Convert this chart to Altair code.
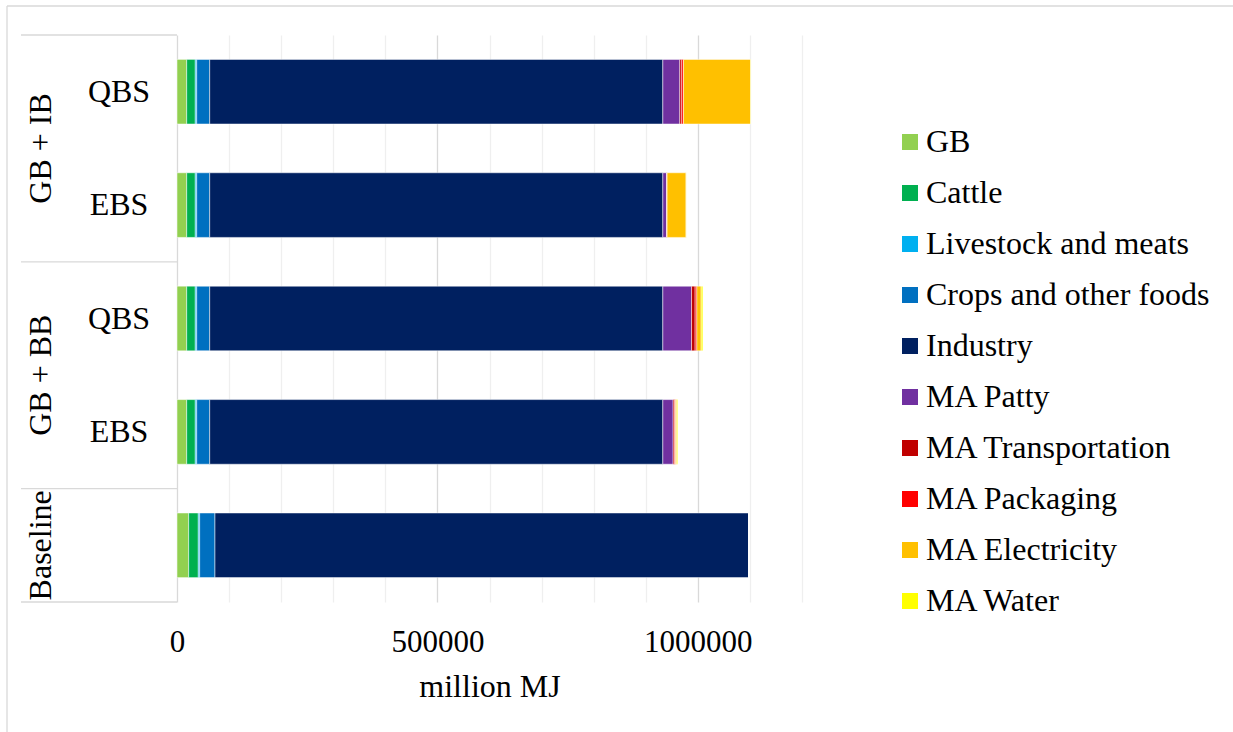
import altair as alt
import pandas as pd

FONT = "Liberation Serif"

# Row order from top to bottom
row_labels = ["QBS", "EBS", "QBS", "EBS", ""]
group_names = ["GB + IB", "GB + BB", "Baseline"]
group_centers = [1.0, 3.0, 4.5]          # in row units
group_breaks = [0, 2, 4, 5]              # separators between label groups

categories = [
    "GB", "Cattle", "Livestock and meats", "Crops and other foods", "Industry",
    "MA Patty", "MA Transportation", "MA Packaging", "MA Electricity", "MA Water",
]
colors = [
    "#92D050", "#00B050", "#00B0F0", "#0070C0", "#002060",
    "#7030A0", "#C00000", "#FF0000", "#FFC000", "#FFFF00",
]

# million MJ per row (GB+IB QBS, GB+IB EBS, GB+BB QBS, GB+BB EBS, Baseline)
gb          = [18600, 18600, 18600, 18600, 22400]
cattle      = [16500, 16500, 16500, 16500, 18500]
livestock   = [2700, 2700, 2700, 2700, 2600]
crops       = [25000, 25000, 25000, 25000, 29400]
industry    = [870000, 870000, 870000, 870000, 1024700]
ma_patty    = [32600, 7100, 55100, 19800, 0]
ma_transport = [3800, 600, 6900, 2600, 0]
ma_packaging = [3300, 500, 3300, 1900, 0]
ma_electric = [129000, 36500, 8300, 2500, 0]
ma_water    = [600, 300, 3300, 1900, 0]

series = [gb, cattle, livestock, crops, industry,
          ma_patty, ma_transport, ma_packaging, ma_electric, ma_water]

records = []
for order, (cat, vals) in enumerate(zip(categories, series)):
    for row, v in enumerate(vals):
        records.append({"row": row, "category": cat, "order": order, "value": v})
bars_df = pd.DataFrame(records)

y_scale = alt.Scale(domain=[0, 5], reverse=True, nice=False, zero=False)
color_scale = alt.Scale(domain=categories, range=colors)

bars = (
    alt.Chart(bars_df)
    .transform_stack(
        stack="value",
        groupby=["row"],
        sort=[alt.SortField("order", order="ascending")],
        as_=["x0", "x1"],
    )
    .transform_calculate(y0="datum.row + 0.215", y1="datum.row + 0.785")
    .mark_bar(stroke="white", strokeWidth=0.5)
    .encode(
        x=alt.X(
            "x0:Q",
            scale=alt.Scale(domain=[0, 1200000], nice=False),
            axis=alt.Axis(
                values=list(range(0, 1200001, 100000)),
                labelExpr="datum.value % 500000 === 0 ? format(datum.value, 'd') : ''",
                title="million MJ",
                domain=False,
                ticks=False,
                labelOverlap=False,
                labelFlush=False,
                gridColor=alt.condition(
                    "datum.value % 500000 === 0", alt.value("#d9d9d9"), alt.value("#efefef")
                ),
                gridWidth=1.3,
                labelFont=FONT,
                labelFontSize=31,
                labelColor="black",
                labelPadding=25,
                titleFont=FONT,
                titleFontSize=32,
                titleFontWeight="normal",
                titleColor="black",
                titlePadding=14,
            ),
        ),
        x2="x1:Q",
        y=alt.Y("y0:Q", scale=y_scale, axis=None),
        y2="y1:Q",
        color=alt.Color(
            "category:N",
            scale=color_scale,
            sort=categories,
            legend=alt.Legend(
                orient="none",
                legendX=717,
                legendY=91,
                title=None,
                symbolType="square",
                symbolSize=256,
                symbolStrokeWidth=0,
                labelFont=FONT,
                labelFontSize=32,
                labelColor="black",
                labelOffset=0,
                rowPadding=19,
                padding=0,
                labelLimit=400,
            ),
        ),
    )
)

# Scenario labels beside each bar
inner_df = pd.DataFrame({"ypos": [i + 0.5 for i in range(len(row_labels))], "label": row_labels})
inner = (
    alt.Chart(inner_df)
    .mark_text(font=FONT, fontSize=32, align="center", baseline="middle", color="black")
    .encode(y=alt.Y("ypos:Q", scale=y_scale, axis=None), x=alt.value(-58), text="label:N")
)

# Rotated group labels
group_df = pd.DataFrame({"ypos": group_centers, "label": group_names})
outer = (
    alt.Chart(group_df)
    .mark_text(font=FONT, fontSize=32, align="center", baseline="middle", angle=270, color="black")
    .encode(y=alt.Y("ypos:Q", scale=y_scale, axis=None), x=alt.value(-136), text="label:N")
)

# Separator lines of the label table
sep_df = pd.DataFrame({"ypos": group_breaks})
seps = (
    alt.Chart(sep_df)
    .mark_rule(color="#d9d9d9", strokeWidth=1.3)
    .encode(y=alt.Y("ypos:Q", scale=y_scale, axis=None), x=alt.value(-156), x2=alt.value(0))
)

# Chart frame (left and top edges)
frame_src = alt.Data(values=[{}])
frame_left = alt.Chart(frame_src).mark_rule(color="#d9d9d9", strokeWidth=1.3).encode(
    x=alt.value(-170), y=alt.value(-29), y2=alt.value(700)
)
frame_top = alt.Chart(frame_src).mark_rule(color="#d9d9d9", strokeWidth=1.3).encode(
    x=alt.value(-170), x2=alt.value(1060), y=alt.value(-29)
)

chart = (
    alt.layer(bars, seps, inner, outer, frame_left, frame_top)
    .properties(
        width=625,
        height=567,
        padding={"left": 177, "top": 35, "right": 431, "bottom": 130},
        autosize=alt.AutoSizeParams(type="none"),
        background="white",
    )
    .configure_view(stroke=None)
)

chart.save("out.html", embed_options={"renderer": "svg", "actions": False})
